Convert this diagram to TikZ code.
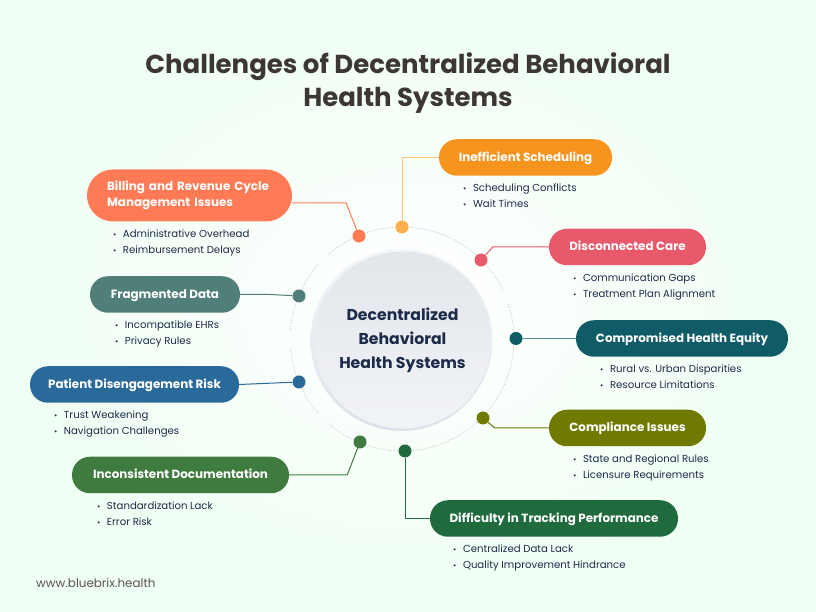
\documentclass[tikz,border=0pt]{standalone}
\usepackage{fontspec}
\setmainfont{Poppins}
\definecolor{titlecol}{HTML}{3D3636}
\definecolor{navycol}{HTML}{1C2B4A}
\definecolor{billcol}{HTML}{FF7A55}
\definecolor{schedcol}{HTML}{F7941D}
\definecolor{schedline}{HTML}{FFC27A}
\definecolor{schedot}{HTML}{FFB04D}
\definecolor{disccol}{HTML}{E85A6B}
\definecolor{equitycol}{HTML}{0F5C66}
\definecolor{complycol}{HTML}{6F7A00}
\definecolor{trackcol}{HTML}{1F6B3D}
\definecolor{docucol}{HTML}{3F7A3F}
\definecolor{riskcol}{HTML}{2A6A9A}
\definecolor{fragcol}{HTML}{4F7F78}
\definecolor{mintcol}{HTML}{EFFFF3}
\definecolor{hubtop}{HTML}{E3E6EA}
\definecolor{hubbot}{HTML}{F1F3F7}
\definecolor{rimtop}{HTML}{F5F6F9}
\definecolor{rimbot}{HTML}{DDE2EA}
\tikzset{
	pill/.style={fill=#1, rounded corners=18pt, text=white, font=\bfseries\fontsize{11.9}{16}\selectfont, inner sep=0pt, minimum height=36.5pt, text height=9pt, text depth=1pt},
	dot/.style={circle, fill=#1, inner sep=0pt, minimum size=13pt},
	link/.style={draw=#1, line width=1pt},
	items/.style={anchor=west, align=left, text=navycol, inner sep=0pt, font=\fontsize{10.15}{16}\selectfont},
}
\newcommand{\itm}[1]{{\fontsize{8}{16}\selectfont\textbullet}\hspace{6.5pt}#1}
\begin{document}
\begin{tikzpicture}[x=1pt, y=1pt]
	\useasboundingbox (0, 0) rectangle (816, 612);
	\shade[inner color=white, outer color=mintcol] (0, 0) rectangle (816, 612);
	%%
	\node[text=titlecol, align=center, font=\bfseries\fontsize{26}{33}\selectfont, inner sep=0pt] (title) at (408, 528.5) {Challenges of Decentralized Behavioral\\Health Systems};
	\node[text=titlecol!85, anchor=west, inner sep=0pt, font=\fontsize{11.9}{15}\selectfont] (site) at (36, 29) {www.bluebrix.health};
	%%
	% dotted ring, broken in five places
	\foreach \from/\to in {-18/-131, -139/-175, 175/139, 131/26, 18/-18}
		\draw[gray!40, line width=0.8pt, dotted, line cap=round] (402, 273) ++(\from:112) arc (\from:\to:112);
	%%
	\shade[top color=rimtop, bottom color=rimbot] (401.5, 272) circle (91);
	\node[circle, minimum size=177pt, inner sep=0pt, top color=hubtop, bottom color=hubbot, text=navycol, align=center, font=\bfseries\fontsize{15.7}{24}\selectfont] (hub) at (402.5, 272) {Decentralized\\Behavioral\\Health Systems};
	%%
	\node[dot=billcol] (billdot) at (359, 376) {};
	\node[dot=schedot] (scheddot) at (402, 385) {};
	\node[dot=disccol] (discdot) at (481, 352) {};
	\node[dot=equitycol] (equitydot) at (516, 273.5) {};
	\node[dot=complycol] (complydot) at (483, 194) {};
	\node[dot=trackcol] (trackdot) at (405, 161) {};
	\node[dot=docucol] (docudot) at (360, 170) {};
	\node[dot=riskcol] (riskdot) at (299, 230) {};
	\node[dot=fragcol] (fragdot) at (299, 316) {};
	%%
	\node[pill=billcol, minimum width=205pt, minimum height=52pt, rounded corners=26pt, align=left, text width=165pt, text height=, text depth=] (bill) at (189.5, 416.5) {Billing and Revenue Cycle\\Management Issues};
	\node[pill=schedcol, minimum width=173pt] (sched) at (525.5, 454.5) {Inefficient Scheduling};
	\node[pill=disccol, minimum width=157pt] (disc) at (627.5, 365) {Disconnected Care};
	\node[pill=equitycol, minimum width=212pt] (equity) at (682, 273.5) {Compromised Health Equity};
	\node[pill=complycol, minimum width=157pt] (comply) at (627.5, 184) {Compliance Issues};
	\node[pill=trackcol, minimum width=248pt] (track) at (554, 93.5) {Difficulty in Tracking Performance};
	\node[pill=docucol, minimum width=217pt] (docu) at (180.5, 137) {Inconsistent Documentation};
	\node[pill=riskcol, minimum width=209pt] (risk) at (134.5, 227.5) {Patient Disengagement Risk};
	\node[pill=fragcol, minimum width=150pt] (frag) at (165, 317.5) {Fragmented Data};
	%%
	\draw[link=billcol] ([yshift=-7.5pt]bill.east) -- ++(54, 0) -- (billdot);
	\draw[link=schedline] (sched.west) -| (scheddot);
	\draw[link=disccol] (disc.west) -- ++(-56, 0) -- (discdot);
	\draw[link=equitycol!70] (equity.west) -- (equitydot);
	\draw[link=complycol] (comply.west) -- ++(-54, 0) -- (complydot);
	\draw[link=trackcol] (track.west) -| (trackdot);
	\draw[link=docucol] (docu.east) -- ++(58, 0) -- (docudot);
	\draw[link=riskcol] (risk.east) -- (riskdot);
	\draw[link=fragcol] (frag.east) -- ++(30, 0) -- (fragdot);
	%%
	\node[items] (billitems) at (113, 369.5) {\itm{Administrative Overhead}\\\itm{Reimbursement Delays}};
	\node[items] (scheditems) at (463, 416) {\itm{Scheduling Conflicts}\\\itm{Wait Times}};
	\node[items] (discitems) at (573, 325) {\itm{Communication Gaps}\\\itm{Treatment Plan Alignment}};
	\node[items] (equityitems) at (600, 235) {\itm{Rural vs. Urban Disparities}\\\itm{Resource Limitations}};
	\node[items] (complyitems) at (573, 144.5) {\itm{State and Regional Rules}\\\itm{Licensure Requirements}};
	\node[items] (trackitems) at (453, 54.5) {\itm{Centralized Data Lack}\\\itm{Quality Improvement Hindrance}};
	\node[items] (docuitems) at (97, 98) {\itm{Standardization Lack}\\\itm{Error Risk}};
	\node[items] (riskitems) at (54, 188) {\itm{Trust Weakening}\\\itm{Navigation Challenges}};
	\node[items] (fragitems) at (115, 278.5) {\itm{Incompatible EHRs}\\\itm{Privacy Rules}};
\end{tikzpicture}
\end{document}
